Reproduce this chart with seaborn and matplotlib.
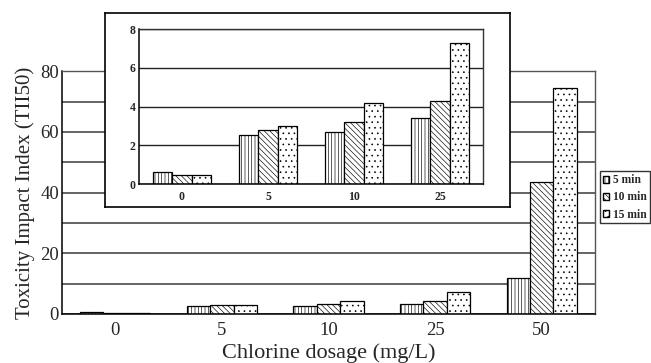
import numpy as np
import pandas as pd
import matplotlib
matplotlib.use('Agg')
import matplotlib.pyplot as plt
from matplotlib.patches import Patch
import seaborn as sns

# data
doses = ['0', '5', '10', '25', '50']
times = ['5 min', '10 min', '15 min']
tii_5 = [0.6, 2.55, 2.7, 3.4, 12.0]
tii_10 = [0.45, 2.8, 3.2, 4.3, 43.5]
tii_15 = [0.45, 3.0, 4.2, 7.3, 74.5]
hatches = ['|||||', '\\\\\\\\\\\\', '...']

main_ticks = [0, 20, 40, 60, 80]
main_grid = [10, 30, 50, 70]
inset_ticks = [0, 2, 4, 6, 8]

df = pd.DataFrame({'dose': doses * 3,
                   'time': np.repeat(times, len(doses)),
                   'tii': tii_5 + tii_10 + tii_15})
df_in = df[df['dose'] != '50']

sns.set_style('white')
plt.rcParams['font.family'] = ['Liberation Serif', 'DejaVu Serif']
plt.rcParams['hatch.linewidth'] = 0.45

white = {t: 'white' for t in times}

fig = plt.figure(figsize=(6.51, 3.63), dpi=100)

# main chart
ax = fig.add_axes([0.095, 0.135, 0.819, 0.669])
sns.barplot(data=df, x='dose', y='tii', hue='time', order=doses, hue_order=times,
            width=0.66, palette=white, saturation=1, edgecolor='black',
            linewidth=0.9, legend=False, ax=ax)
for cont, h in zip(ax.containers, hatches):
    for bar in cont:
        bar.set_hatch(h)
ax.set_xlim(-0.5, 4.5)
ax.set_ylim(0, 80)
ax.set_yticks(main_ticks)
ax.set_yticks(main_grid, minor=True)
ax.yaxis.grid(True, which='both', color='#3a3a3a', lw=1.1)
ax.set_axisbelow(True)
ax.set_xticks([0.5, 1.5, 2.5, 3.5], minor=True)
ax.tick_params(axis='x', which='major', length=0, labelsize=13.5, pad=6)
ax.tick_params(axis='x', which='minor', length=3, direction='in')
ax.tick_params(axis='y', which='major', length=0, labelsize=13.5, pad=2)
ax.tick_params(axis='y', which='minor', length=0)
ax.set_xlabel('Chlorine dosage (mg/L)', fontsize=16, labelpad=3)
ax.set_ylabel('Toxicity Impact Index (TII50)', fontsize=15, labelpad=4)
for s in ['left', 'bottom']:
    ax.spines[s].set_color('black')
    ax.spines[s].set_linewidth(1.1)
for s in ['right', 'top']:
    ax.spines[s].set_color('#555555')
    ax.spines[s].set_linewidth(1.0)

# white box behind the inset
box = fig.add_axes([0.161, 0.430, 0.622, 0.534])
box.set_xticks([])
box.set_yticks([])
box.set_facecolor('white')
for s in box.spines.values():
    s.set_color('black')
    s.set_linewidth(1.2)

# inset chart
axi = fig.add_axes([0.2135, 0.493, 0.5285, 0.427])
sns.barplot(data=df_in, x='dose', y='tii', hue='time', order=doses[:4], hue_order=times,
            width=0.68, palette=white, saturation=1, edgecolor='black',
            linewidth=0.9, legend=False, ax=axi)
for cont, h in zip(axi.containers, hatches):
    for bar in cont:
        bar.set_hatch(h)
axi.set_xlim(-0.5, 3.5)
axi.set_ylim(0, 8)
axi.set_yticks(inset_ticks)
axi.yaxis.grid(True, color='#222222', lw=1.0)
axi.set_axisbelow(True)
axi.set_xticks([0.5, 1.5, 2.5], minor=True)
axi.tick_params(axis='x', which='major', length=0, labelsize=8.5, pad=5)
axi.tick_params(axis='x', which='minor', length=2.5, direction='in')
axi.tick_params(axis='y', length=2, direction='out', labelsize=8.5, pad=0.5)
for lab in axi.get_xticklabels() + axi.get_yticklabels():
    lab.set_fontweight('bold')
axi.set_xlabel('')
axi.set_ylabel('')
for s in ['left', 'bottom']:
    axi.spines[s].set_color('black')
    axi.spines[s].set_linewidth(1.1)
for s in ['right', 'top']:
    axi.spines[s].set_color('#333333')
    axi.spines[s].set_linewidth(1.0)

handles = [Patch(facecolor='white', edgecolor='black', hatch=h, label=t)
           for t, h in zip(times, hatches)]
fig.legend(handles=handles, loc='upper left', bbox_to_anchor=(0.922, 0.528),
           prop={'size': 8.3, 'weight': 'bold'}, frameon=True, fancybox=False,
           edgecolor='black', handlelength=0.55, handleheight=0.55,
           handletextpad=0.3, labelspacing=0.45, borderpad=0.25, borderaxespad=0)

fig.savefig('out.png', dpi=100)
